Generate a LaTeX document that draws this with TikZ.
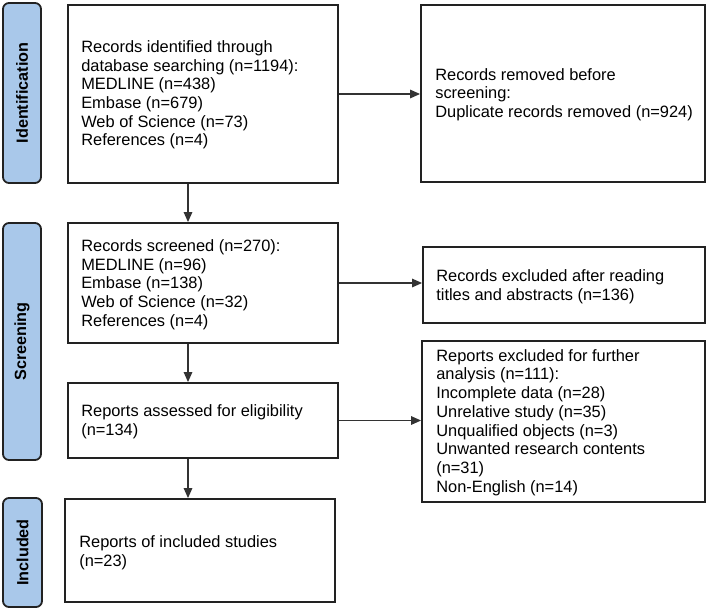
\documentclass[tikz,border=0pt]{standalone}
\usepackage{fontspec}
\setmainfont{Liberation Sans}
\usetikzlibrary{arrows.meta}
\definecolor{lblfill}{HTML}{A9C8EA}
\definecolor{edge}{HTML}{222222}
\definecolor{conn}{HTML}{333333}
\begin{document}
\begin{tikzpicture}[x=1pt,y=-1pt,
  box/.style={draw=edge,line width=1.8pt,fill=white,inner sep=0pt},
  txt/.style={anchor=west,inner sep=0pt,align=left,font=\fontsize{16.4}{18.7}\selectfont},
  phase/.style={draw=edge,line width=1.8pt,fill=lblfill,rounded corners=6pt,inner sep=0pt},
  phasetxt/.style={rotate=90,font=\fontsize{16.2}{18}\selectfont\bfseries},
  conn/.style={draw=conn,line width=1.3pt,-{Triangle[length=10pt,width=8.5pt]}}]
\useasboundingbox (0,0) rectangle (709,610);
% phase labels
\node[phase,minimum width=38pt,minimum height=180pt] (L1) at (22,93) {};
\node[phasetxt] at (L1.center) {Identification};
\node[phase,minimum width=38pt,minimum height=237pt] (L2) at (22,341.5) {};
\node[phasetxt] at (L2.center) {Screening};
\node[phase,minimum width=39pt,minimum height=109pt] (L3) at (22.5,552.5) {};
\node[phasetxt] at (L3.center) {Included};
% boxes
\node[box,minimum width=270pt,minimum height=178pt] (A) at (203,94) {};
\node[box,minimum width=284pt,minimum height=177pt] (B) at (563,93.5) {};
\node[box,minimum width=270pt,minimum height=120pt] (C) at (203,283) {};
\node[box,minimum width=282pt,minimum height=76pt] (E) at (564,285) {};
\node[box,minimum width=270pt,minimum height=75pt] (D) at (203,420.5) {};
\node[box,minimum width=283pt,minimum height=161pt] (F) at (563.5,421.5) {};
\node[box,minimum width=270pt,minimum height=103pt] (G) at (200,550.5) {};
% texts
\node[txt] (tA) at ([xshift=14pt,yshift=-1pt]A.west) {Records identified through\\database searching (n=1194):\\MEDLINE (n=438)\\Embase (n=679)\\Web of Science (n=73)\\References (n=4)};
\node[txt] (tB) at ([xshift=15pt,yshift=-1pt]B.west) {Records removed before\\screening:\\Duplicate records removed (n=924)};
\node[txt] (tC) at ([xshift=14pt,yshift=-1.5pt]C.west) {Records screened (n=270):\\MEDLINE (n=96)\\Embase (n=138)\\Web of Science (n=32)\\References (n=4)};
\node[txt] (tE) at ([xshift=14pt,yshift=-1.5pt]E.west) {Records excluded after reading\\titles and abstracts (n=136)};
\node[txt] (tD) at ([xshift=14pt,yshift=-1.5pt]D.west) {Reports assessed for eligibility\\(n=134)};
\node[txt] (tF) at ([xshift=15pt,yshift=-1pt]F.west) {Reports excluded for further\\analysis (n=111):\\Incomplete data (n=28)\\Unrelative study (n=35)\\Unqualified objects (n=3)\\Unwanted research contents\\(n=31)\\Non-English (n=14)};
\node[txt] (tG) at ([xshift=15pt,yshift=-2.5pt]G.west) {Reports of included studies\\(n=23)};
% connectors
\draw[conn] (A.east) -- (A.east -| B.west);
\draw[conn] ([xshift=-15pt]A.south) -- ([xshift=-15pt]A.south |- C.north);
\draw[conn] (C.east) -- (C.east -| E.west);
\draw[conn] ([xshift=-15pt]C.south) -- ([xshift=-15pt]C.south |- D.north);
\draw[conn] (D.east) -- (D.east -| F.west);
\draw[conn] ([xshift=-15pt]D.south) -- ([xshift=-15pt]D.south |- G.north);
\end{tikzpicture}
\end{document}
